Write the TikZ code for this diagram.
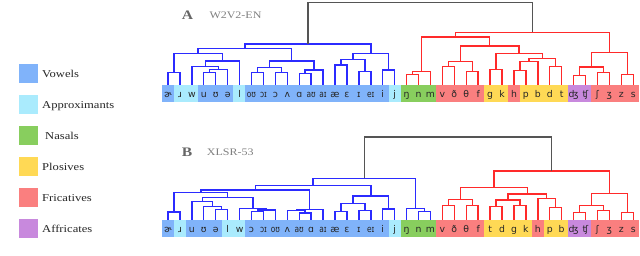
\documentclass[tikz,border=0pt]{standalone}
\usepackage{fontspec}
\usepackage{graphicx}
\newfontfamily\legfont[FakeStretch=1.2]{Liberation Serif}
\newfontfamily\ipafont{DejaVu Sans}
\usetikzlibrary{calc}
\definecolor{vow}{HTML}{80B3FA}
\definecolor{apx}{HTML}{AAEBFD}
\definecolor{nas}{HTML}{88CE5E}
\definecolor{plo}{HTML}{FFD955}
\definecolor{fri}{HTML}{FA7F7F}
\definecolor{aff}{HTML}{C889DD}
\definecolor{lblue}{HTML}{2B2BFF}
\definecolor{lred}{HTML}{FF2A2A}
\definecolor{lroot}{HTML}{555555}
\definecolor{ttl}{HTML}{808080}
\newcommand\sq[1]{\scalebox{0.8}[1]{#1}}
\newcommand\dlink[5][]{%
  \path let \p1=(#3), \p2=(#4) in coordinate (#2) at ({0.5*\x1+0.5*\x2},{-#5pt});
  \draw[#1] (#3) |- (#2) -| (#4);}
\def\toplist{ɚ/vow,ɹ/apx,w/apx,u/vow,ʊ/vow,ə/vow,l/apx,\sq{oʊ}/vow,\sq{ɔɪ}/vow,ɔ/vow,ʌ/vow,ɑ/vow,\sq{aʊ}/vow,\sq{aɪ}/vow,æ/vow,ɛ/vow,ɪ/vow,\sq{eɪ}/vow,i/vow,j/apx,ŋ/nas,n/nas,m/nas,v/fri,ð/fri,θ/fri,f/fri,g/plo,k/plo,h/fri,p/plo,b/plo,d/plo,t/plo,ʤ/aff,ʧ/aff,ʃ/fri,ʒ/fri,z/fri,s/fri}
\def\botlist{ɚ/vow,ɹ/apx,u/vow,ʊ/vow,ə/vow,l/apx,w/apx,ɔ/vow,\sq{ɔɪ}/vow,\sq{oʊ}/vow,ʌ/vow,\sq{aʊ}/vow,ɑ/vow,\sq{aɪ}/vow,æ/vow,ɛ/vow,ɪ/vow,\sq{eɪ}/vow,i/vow,j/apx,ŋ/nas,n/nas,m/nas,v/fri,ð/fri,θ/fri,f/fri,t/plo,d/plo,g/plo,k/plo,h/fri,p/plo,b/plo,ʤ/aff,ʧ/aff,ʃ/fri,ʒ/fri,z/fri,s/fri}
\begin{document}
\begin{tikzpicture}[x=1pt,y=-1pt,
  cell/.style={anchor=north,inner sep=0pt,outer sep=0pt,minimum width=12.2pt,minimum height=16.7pt},
  lbl/.style={inner sep=0pt,font=\ipafont\fontsize{9.3}{11}\selectfont,text=black!85,text height=9.8pt,text depth=2pt},
  blu/.style={draw=lblue,line width=1.4pt},
  rd/.style={draw=lred,line width=1.4pt},
  rootl/.style={draw=lroot,line width=1.4pt},
  legsq/.style={inner sep=0pt,minimum size=19pt},
  legtxt/.style={anchor=base west,inner sep=0pt,font=\legfont\fontsize{10.5}{12}\selectfont,text=black!85},
  ttlA/.style={anchor=base west,inner sep=0pt,font=\legfont\bfseries\fontsize{13}{15}\selectfont,text=black!60},
  ttlB/.style={anchor=base west,inner sep=0pt,font=\legfont\fontsize{10}{12}\selectfont,text=ttl}]
\useasboundingbox (0,0) rectangle (640,256);
\fill[white] (0,0) rectangle (640,256);
% legend
\foreach \t/\c/\yy/\dx [count=\k] in {Vowels/vow/73.8/0,Approximants/apx/105/0,Nasals/nas/135.8/3,Plosives/plo/166.7/0,Fricatives/fri/197.5/0,Affricates/aff/228.5/0}{
  \node[legsq,fill=\c] (sq\k) at (28.7,\yy) {};
  \node[legtxt] (lt\k) at ({42+\dx},{\yy+4}) {\t};
}
% titles
\node[ttlA] (tA) at (181.7,19.3) {A};
\node[ttlB] (nA) at (209.3,19) {W2V2-EN};
\node[ttlA] (tB) at (181.7,156.5) {B};
\node[ttlB] (nB) at (206.7,156) {XLSR-53};
% leaves
\foreach \lab/\col [count=\i] in \toplist {\node[cell,fill=\col] (A\i) at ({168+(\i-1)*11.93},85) {};}
\foreach \lab/\col [count=\i] in \toplist {\node[lbl] (At\i) at (A\i) {\lab};}
\foreach \lab/\col [count=\i] in \botlist {\node[cell,fill=\col] (B\i) at ({168+(\i-1)*11.93},220) {};}
\foreach \lab/\col [count=\i] in \botlist {\node[lbl] (Bt\i) at (B\i) {\lab};}
% ---------- tree A ----------
\dlink[blu]{a1}{A1.north}{A2.north}{72.7}
\dlink[blu]{a2}{A4.north}{A5.north}{72.7}
\dlink[blu]{a3}{a2}{A6.north}{69.3}
\dlink[blu]{a4}{A3.north}{a3}{66.7}
\dlink[blu]{a5}{a4}{A7.north}{61}
\dlink[blu]{a6}{a1}{a5}{53.3}
\dlink[blu]{b1}{A8.north}{A9.north}{72.7}
\dlink[blu]{b2}{A10.north}{A11.north}{72.7}
\dlink[blu]{b3}{b1}{b2}{67.7}
\dlink[blu]{b4}{A12.north}{A13.north}{73.3}
\dlink[blu]{b5}{b4}{A14.north}{70}
\dlink[blu]{b6}{b3}{b5}{61}
\dlink[blu]{c1}{a6}{b6}{48.3}
\dlink[blu]{d1}{A15.north}{A16.north}{65}
\dlink[blu]{d2}{A17.north}{A18.north}{71.7}
\dlink[blu]{d3}{d1}{d2}{59.3}
\dlink[blu]{d4}{A19.north}{A20.north}{70}
\dlink[blu]{d5}{d3}{d4}{53.3}
\dlink[blu]{ablue}{c1}{d5}{44}
\dlink[rd]{e1}{A21.north}{A22.north}{74.5}
\dlink[rd]{e2}{e1}{A23.north}{71.5}
\dlink[rd]{f1}{A24.north}{A25.north}{66.7}
\dlink[rd]{f2}{A26.north}{A27.north}{71.7}
\dlink[rd]{f3}{f1}{f2}{61.7}
\dlink[rd]{g1}{A28.north}{A29.north}{69.3}
\dlink[rd]{h1}{A30.north}{A31.north}{70.5}
\dlink[rd]{h2}{h1}{A32.north}{61.5}
\dlink[rd]{h3}{A33.north}{A34.north}{66.5}
\dlink[rd]{h4}{h2}{h3}{58.3}
\dlink[rd]{p1}{g1}{h4}{53.3}
\dlink[rd]{c2}{f3}{p1}{46}
\dlink[rd]{rl}{e2}{c2}{37}
\dlink[rd]{i1}{A35.north}{A36.north}{75.5}
\dlink[rd]{i2}{A37.north}{A38.north}{72.5}
\dlink[rd]{i3}{i1}{i2}{67}
\dlink[rd]{i4}{A39.north}{A40.north}{74.5}
\dlink[rd]{i5}{i3}{i4}{52.7}
\dlink[rd]{ared}{rl}{i5}{32.5}
\dlink[rootl]{aroot}{ablue}{ared}{2.5}
% ---------- tree B ----------
\dlink[blu]{Ba1}{B1.north}{B2.north}{212}
\dlink[blu]{Bz1}{B5.north}{B6.north}{209.7}
\dlink[blu]{Bz2}{B4.north}{Bz1}{206.3}
\dlink[blu]{Bz3}{B3.north}{Bz2}{201.3}
\dlink[blu]{Bw1}{B8.north}{B9.north}{211.5}
\dlink[blu]{Bw2}{Bw1}{B10.north}{210}
\dlink[blu]{Bw3}{B7.north}{Bw2}{208.5}
\dlink[blu]{Bk}{Bz3}{Bw3}{197.5}
\dlink[blu]{Bx1}{Ba1}{Bk}{192.8}
\dlink[blu]{Bv1}{B12.north}{B13.north}{213}
\dlink[blu]{Bv2}{B11.north}{Bv1}{210.5}
\dlink[blu]{Bv3}{Bv2}{B14.north}{209.3}
\dlink[blu]{Bx}{Bx1}{Bv3}{190}
\dlink[blu]{By1}{B15.north}{B16.north}{211.7}
\dlink[blu]{By2}{B17.north}{B18.north}{210.5}
\dlink[blu]{By3}{By1}{By2}{203.3}
\dlink[blu]{By4}{B19.north}{B20.north}{209}
\dlink[blu]{By}{By3}{By4}{196}
\dlink[blu]{Bl}{Bx}{By}{185.5}
\dlink[blu]{Bn1}{B22.north}{B23.north}{211.7}
\dlink[blu]{Bn2}{B21.north}{Bn1}{208.3}
\dlink[blu]{Bblue}{Bl}{Bn2}{178.3}
\dlink[rd]{Bf1}{B24.north}{B25.north}{205.7}
\dlink[rd]{Bf2}{B26.north}{B27.north}{205.7}
\dlink[rd]{Bf3}{Bf1}{Bf2}{199.3}
\dlink[rd]{Bp1}{B28.north}{B29.north}{206.7}
\dlink[rd]{Bp2}{B30.north}{B31.north}{205.7}
\dlink[rd]{Bp3}{Bp1}{Bp2}{200}
\dlink[rd]{Bp4}{B33.north}{B34.north}{207.7}
\dlink[rd]{Bp5}{B32.north}{Bp4}{198.3}
\dlink[rd]{Bp}{Bp3}{Bp5}{194}
\dlink[rd]{Brl}{Bf3}{Bp}{187.7}
\dlink[rd]{Bq1}{B35.north}{B36.north}{212.7}
\dlink[rd]{Bq2}{B37.north}{B38.north}{210.7}
\dlink[rd]{Bq3}{Bq1}{Bq2}{205.7}
\dlink[rd]{Bq4}{B39.north}{B40.north}{212.3}
\dlink[rd]{Bq}{Bq3}{Bq4}{193.3}
\dlink[rd]{Bred}{Brl}{Bq}{171}
\dlink[rootl]{Broot}{Bblue}{Bred}{137}
\end{tikzpicture}
\end{document}
